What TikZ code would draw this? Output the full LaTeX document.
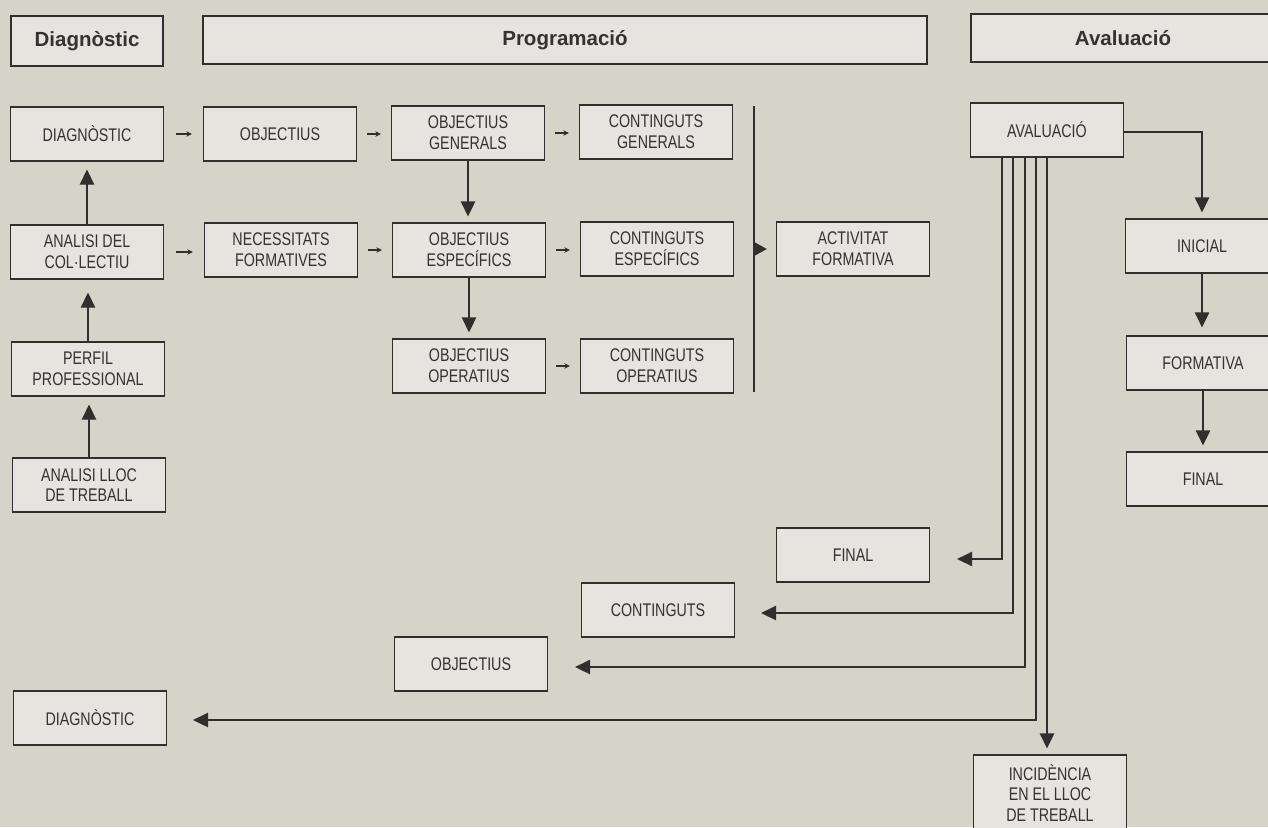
\documentclass[tikz,border=0pt]{standalone}
\usepackage{fontspec}
\setmainfont{Liberation Sans}
\newfontfamily\boxfont{Liberation Sans}[FakeStretch=0.78]
\usetikzlibrary{arrows.meta,calc}
\definecolor{paper}{RGB}{214,211,201}
\definecolor{boxfill}{RGB}{229,228,222}
\definecolor{ink}{RGB}{48,46,46}
\definecolor{txt}{RGB}{52,50,50}
\tikzset{
  box/.style={draw=ink, fill=boxfill, line width=1.3pt, minimum width=153pt, minimum height=54pt,
    inner sep=0pt, align=center, text=txt, font=\boxfont\fontsize{18.3}{20.7}\selectfont},
  head/.style={draw=ink, fill=boxfill, line width=2.3pt, minimum height=48pt, inner sep=0pt,
    text=txt, font=\fontsize{20.5}{24}\selectfont\bfseries},
  conn/.style={draw=ink, line width=1.3pt},
  bigarrow/.style={conn, -{Triangle[length=15pt,width=14.5pt]}},
  smallarrow/.style={draw=ink, line width=1.1pt, -{Stealth[length=5.5pt,width=5.5pt]}},
}
\begin{document}
\begin{tikzpicture}[x=1pt,y=-1pt]
\fill[paper] (0,0) rectangle (1268,827);
\useasboundingbox (0,0) rectangle (1268,827);
\clip (0,0) rectangle (1268,827);

% headers
\node[head, minimum width=152pt, minimum height=50pt] (hD) at (87,41) {Diagnòstic};
\node[head, minimum width=724pt] (hP) at (565,40) {Programació};
\node[head, minimum width=304pt] (hA) at (1123,38) {Avaluació};

% row 1
\node[box] (d1)  at (87,134)  {DIAGNÒSTIC};
\node[box] (ob)  at (280,134) {OBJECTIUS};
\node[box] (og)  at (468,133) {OBJECTIUS\\GENERALS};
\node[box] (cg)  at (656,132) {CONTINGUTS\\GENERALS};
\node[box] (av)  at (1047,130) {AVALUACIÓ};

% row 2
\node[box] (an)  at (87,252)  {ANALISI DEL\\COL·LECTIU};
\node[box] (nf)  at (281,250) {NECESSITATS\\FORMATIVES};
\node[box] (oe)  at (469,250) {OBJECTIUS\\ESPECÍFICS};
\node[box] (ce)  at (657,249) {CONTINGUTS\\ESPECÍFICS};
\node[box] (af)  at (853,249) {ACTIVITAT\\FORMATIVA};
\node[box] (ini) at (1202,246) {INICIAL};

% row 3
\node[box] (pp)  at (88,369)  {PERFIL\\PROFESSIONAL};
\node[box] (oo)  at (469,366) {OBJECTIUS\\OPERATIUS};
\node[box] (co)  at (657,366) {CONTINGUTS\\OPERATIUS};
\node[box] (fo)  at (1203,363) {FORMATIVA};

% row 4
\node[box] (al)  at (89,485)  {ANALISI LLOC\\DE TREBALL};
\node[box] (fi)  at (1203,479) {FINAL};

% bottom
\node[box] (bfi) at (853,555) {FINAL};
\node[box] (bco) at (658,610) {CONTINGUTS};
\node[box] (bob) at (471,664) {OBJECTIUS};
\node[box] (bd)  at (90,718)  {DIAGNÒSTIC};
\node[box, minimum height=76pt] (inc) at (1050,793) {INCIDÈNCIA\\EN EL LLOC\\DE TREBALL};

% left column upward arrows
\draw[bigarrow] (al.north) -- ($(al.north |- pp.south)+(0,8)$);
\draw[bigarrow] (pp.north) -- ($(pp.north |- an.south)+(0,13)$);
\draw[bigarrow] (an.north) -- ($(an.north |- d1.south)+(0,8)$);

% small horizontal arrows
\draw[smallarrow] ($(d1.east)+(12,0)$) -- ($(d1.east -| ob.west)+(-11,0)$);
\draw[smallarrow] ($(ob.east)+(10,0)$) -- ($(ob.east -| og.west)+(-10,0)$);
\draw[smallarrow] ($(og.east)+(10,0)$) -- ($(og.east -| cg.west)+(-10,0)$);
\draw[smallarrow] ($(an.east)+(12,0)$) -- ($(an.east -| nf.west)+(-11,0)$);
\draw[smallarrow] ($(nf.east)+(10,0)$) -- ($(nf.east -| oe.west)+(-10,0)$);
\draw[smallarrow] ($(oe.east)+(10,0)$) -- ($(oe.east -| ce.west)+(-10,0)$);
\draw[smallarrow] ($(oo.east)+(10,0)$) -- ($(oo.east -| co.west)+(-10,0)$);

% programming vertical arrows
\draw[bigarrow] (og.south) -- ($(og.south |- oe.north)+(0,-6)$);
\draw[bigarrow] (oe.south) -- ($(oe.south |- oo.north)+(0,-6)$);

% joining line and arrow to activitat
\coordinate (vt) at (754,106);
\coordinate (vb) at (754,392);
\draw[conn] (vt) -- (vb);
\draw[conn, -{Triangle[length=13pt,width=14pt]}] (vt |- af.west) -- ($(af.west)+(-9,0)$);

% evaluation chain
\draw[bigarrow] ($(av.east)+(0,2)$) -| ($(ini.north)+(0,-6)$);
\draw[bigarrow] (ini.south) -- ($(ini.south |- fo.north)+(0,-8)$);
\draw[bigarrow] (fo.south) -- ($(fo.south |- fi.north)+(0,-6)$);

% five feedback lines
\coordinate (l1) at ($(av.south)+(-45,0)$);
\coordinate (l2) at ($(av.south)+(-34,0)$);
\coordinate (l3) at ($(av.south)+(-22,0)$);
\coordinate (l4) at ($(av.south)+(-11,0)$);
\coordinate (l5) at (av.south);
\draw[bigarrow] (l1) |- ($(bfi.east)+(27,4)$);
\draw[bigarrow] (l2) |- ($(bco.east)+(26,3)$);
\draw[bigarrow] (l3) |- ($(bob.east)+(27,3)$);
\draw[bigarrow] (l4) |- ($(bd.east)+(26,2)$);
\draw[bigarrow] (l5) -- ($(l5 |- inc.north)+(0,-6)$);
\end{tikzpicture}
\end{document}
